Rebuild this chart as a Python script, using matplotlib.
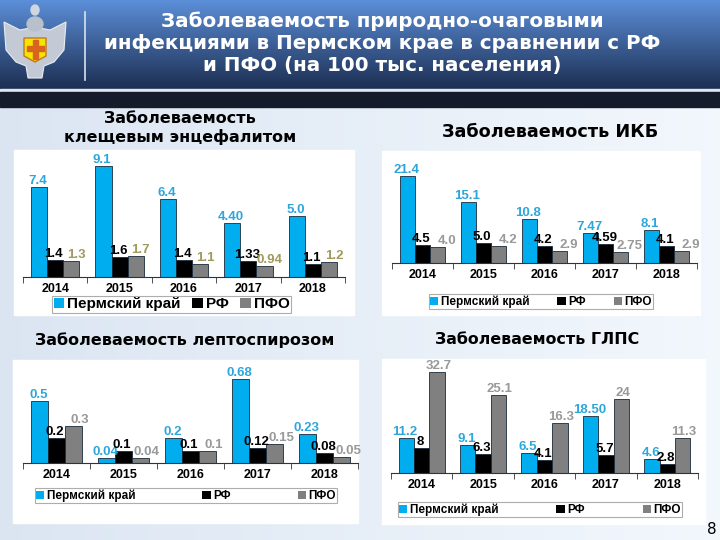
import matplotlib
matplotlib.use('Agg')
import matplotlib.pyplot as plt
import numpy as np
from matplotlib.patches import Rectangle, Polygon, Ellipse

# Data
years = ['2014', '2015', '2016', '2017', '2018']
series = ['Пермский край', 'РФ', 'ПФО']

kie_perm = [7.4, 9.1, 6.4, 4.40, 5.0]
kie_rf = [1.4, 1.6, 1.4, 1.33, 1.1]
kie_pfo = [1.3, 1.7, 1.1, 0.94, 1.2]
kie_txt = [['7.4', '9.1', '6.4', '4.40', '5.0'],
           ['1.4', '1.6', '1.4', '1.33', '1.1'],
           ['1.3', '1.7', '1.1', '0.94', '1.2']]

ikb_perm = [21.4, 15.1, 10.8, 7.47, 8.1]
ikb_rf = [4.5, 5.0, 4.2, 4.59, 4.1]
ikb_pfo = [4.0, 4.2, 2.9, 2.75, 2.9]
ikb_txt = [['21.4', '15.1', '10.8', '7.47', '8.1'],
           ['4.5', '5.0', '4.2', '4.59', '4.1'],
           ['4.0', '4.2', '2.9', '2.75', '2.9']]

lep_perm = [0.5, 0.04, 0.2, 0.68, 0.23]
lep_rf = [0.2, 0.1, 0.1, 0.12, 0.08]
lep_pfo = [0.3, 0.04, 0.1, 0.15, 0.05]
lep_txt = [['0.5', '0.04', '0.2', '0.68', '0.23'],
           ['0.2', '0.1', '0.1', '0.12', '0.08'],
           ['0.3', '0.04', '0.1', '0.15', '0.05']]

glps_perm = [11.2, 9.1, 6.5, 18.50, 4.6]
glps_rf = [8, 6.3, 4.1, 5.7, 2.8]
glps_pfo = [32.7, 25.1, 16.3, 24, 11.3]
glps_txt = [['11.2', '9.1', '6.5', '18.50', '4.6'],
            ['8', '6.3', '4.1', '5.7', '2.8'],
            ['32.7', '25.1', '16.3', '24', '11.3']]

W, H = 720, 540
fig = plt.figure(figsize=(7.2, 5.4), dpi=100)

# Background
bg = fig.add_axes([0, 0, 1, 1])
bg.set_axis_off()
grad = np.linspace(0, 1, 256)
body = np.ones((2, 256, 3))
left = np.array([0.86, 0.90, 0.95])
right = np.array([0.95, 0.97, 0.99])
body[:] = left + (right - left) * grad[:, None]
bg.imshow(body, extent=[0, W, H, 0], aspect='auto')
hdr = np.zeros((256, 2, 3))
top = np.array([0.36, 0.56, 0.85])
bot = np.array([0.11, 0.18, 0.32])
hdr[:] = (top + (bot - top) * grad[:, None])[:, None, :]
bg.imshow(hdr, extent=[0, W, 89, 0], aspect='auto')
bg.add_patch(Rectangle((0, 89), W, 3, color='#dfe6ee'))
bg.add_patch(Rectangle((0, 92), W, 15, color='#141b2b'))
bg.set_xlim(0, W)
bg.set_ylim(H, 0)

# Emblem (simplified)
bg.add_patch(Polygon([(4, 22), (20, 30), (30, 28), (40, 28), (50, 30), (66, 22),
                      (64, 50), (54, 62), (44, 66), (42, 78), (28, 78), (26, 66),
                      (16, 62), (6, 50)], closed=True, facecolor='#c3cad6',
                     edgecolor='#e8ecf2', lw=0.8))
bg.add_patch(Ellipse((35, 24), 16, 14, color='#b8c0cc'))
bg.add_patch(Ellipse((35, 10), 8, 10, color='#d0d6df'))
bg.add_patch(Polygon([(24, 38), (46, 38), (46, 56), (35, 62), (24, 56)],
                     closed=True, facecolor='#f4e400', edgecolor='#c47a1a', lw=1))
bg.add_patch(Rectangle((32.5, 40), 5, 19, color='#d9641e'))
bg.add_patch(Rectangle((26.5, 46), 17, 5, color='#d9641e'))
bg.plot([85, 85], [12, 80], color='#d8e2f0', lw=1.2)

bg.text(382, 43, 'Заболеваемость природно-очаговыми\nинфекциями в Пермском крае в сравнении с РФ\nи ПФО (на 100 тыс. населения)',
        ha='center', va='center', color='white', fontsize=14.3, fontweight='bold',
        family='DejaVu Sans', linespacing=1.2)
bg.text(712, 530, '8', ha='center', va='center', fontsize=11, family='DejaVu Sans')

# White boxes behind charts
for x0, y0, x1, y1 in [(14, 150, 354, 315), (382, 151, 700, 315),
                       (13, 360, 358, 523), (382, 359, 705, 524)]:
    bg.add_patch(Rectangle((x0, y0), x1 - x0, y1 - y0, color='white'))

titles = [('Заболеваемость\nклещевым энцефалитом', 180, 128, 11.5),
          ('Заболеваемость ИКБ', 550, 132, 12.7),
          ('Заболеваемость лептоспирозом', 185, 340, 11.5),
          ('Заболеваемость ГЛПС', 537, 340, 11.4)]
for t, x, y, fs in titles:
    bg.text(x, y, t, ha='center', va='center', fontsize=fs, fontweight='bold',
            family='DejaVu Sans', linespacing=1.2)

colors = ['#00aeef', '#000000', '#808080']


def panel(x0, x1, ybase, ytop, scale, data, texts, pfo_color, pfo_dx, leg, leg_fs):
    ax = fig.add_axes([x0 / W, 1 - ybase / H, (x1 - x0) / W, (ybase - ytop) / H])
    ax.patch.set_alpha(0)
    x = np.arange(len(years))
    width = 0.25
    lab_colors = ['#2ea6dc', '#000000', pfo_color]
    dxs = [-0.02, -0.02, pfo_dx]
    for i, vals in enumerate(data):
        bars = ax.bar(x + (i - 1) * width, vals, width, color=colors[i],
                      edgecolor='#1a2a3a', linewidth=0.6, label=series[i], zorder=2)
        for b, t in zip(bars, texts[i]):
            ax.text(b.get_x() + b.get_width() / 2 + dxs[i], b.get_height(), t,
                    ha='center', va='bottom', fontsize=9.5, fontweight='bold',
                    color=lab_colors[i], family='Liberation Sans', zorder=3)
    ax.set_xlim(-0.5, len(years) - 0.5)
    ax.set_ylim(0, (ybase - ytop) / scale)
    for s in ['top', 'right', 'left']:
        ax.spines[s].set_visible(False)
    ax.spines['bottom'].set_color('#333333')
    ax.set_yticks([])
    ax.set_xticks(x)
    ax.set_xticklabels(years, fontsize=9, fontweight='bold', family='Liberation Sans')
    ax.tick_params(axis='x', which='major', length=0, pad=4)
    ax.set_xticks(np.arange(-0.5, len(years)), minor=True)
    ax.tick_params(axis='x', which='minor', length=4, color='#333333')
    lx0, ly0, lx1, ly1 = leg
    lg = ax.legend(loc='lower left', bbox_to_anchor=(lx0 / W, 1 - ly1 / H, (lx1 - lx0) / W, (ly1 - ly0) / H),
                   bbox_transform=fig.transFigure, ncol=3, mode='expand', fancybox=False,
                   handlelength=0.7, handleheight=0.7, handletextpad=0.2, borderpad=0.1,
                   borderaxespad=0, prop={'family': 'Liberation Sans', 'weight': 'bold', 'size': leg_fs})
    lg.get_frame().set_edgecolor('#999999')
    lg.get_frame().set_linewidth(0.8)
    for h in lg.legend_handles:
        h.set_edgecolor('none')
    return ax


panel(23, 345, 277, 160, 12.2, [kie_perm, kie_rf, kie_pfo], kie_txt, '#a09a5c', 0.08,
      (52, 298, 291, 313), 11)
panel(392, 697, 263, 165, 4.07, [ikb_perm, ikb_rf, ikb_pfo], ikb_txt, '#999999', 0.15,
      (429, 291, 653, 309), 8.5)
panel(23, 358, 463, 370, 124, [lep_perm, lep_rf, lep_pfo], lep_txt, '#999999', 0.1,
      (35, 483, 337, 503), 8.5)
panel(391, 698, 473, 365, 3.09, [glps_perm, glps_rf, glps_pfo], glps_txt, '#999999', 0.02,
      (398, 503, 682, 517), 8.5)

fig.savefig('out.png', dpi=100)
